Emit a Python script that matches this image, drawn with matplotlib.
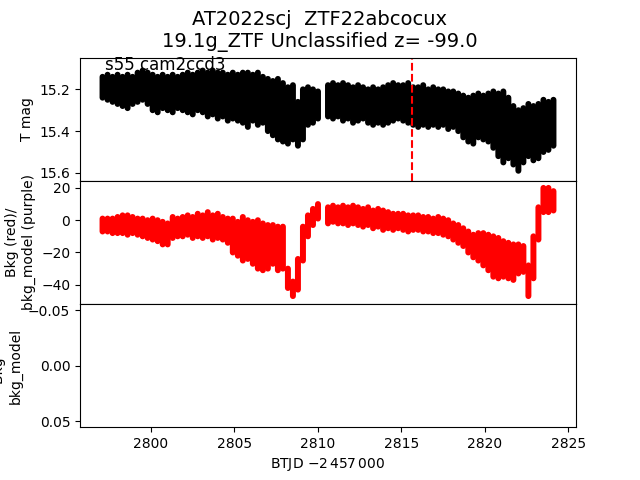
import numpy as np
import matplotlib.pyplot as plt

# values, one column roughly every 0.3 d
btjd = [2797.1, 2797.4, 2797.7, 2798.0, 2798.3, 2798.6, 2798.9, 2799.2, 2799.5, 2799.8,
        2800.1, 2800.4, 2800.7, 2801.0, 2801.3, 2801.6, 2801.9, 2802.2, 2802.5, 2802.8,
        2803.1, 2803.4, 2803.7, 2804.0, 2804.3, 2804.6, 2804.9, 2805.2, 2805.5, 2805.8,
        2806.1, 2806.4, 2806.7, 2807.0, 2807.3, 2807.6, 2807.9, 2808.2, 2808.5, 2808.8,
        2809.1, 2809.4, 2809.7, 2810.0,
        2810.6, 2810.9, 2811.2, 2811.5, 2811.8, 2812.1, 2812.4, 2812.7, 2813.0, 2813.3,
        2813.6, 2813.9, 2814.2, 2814.5, 2814.8, 2815.1, 2815.4, 2815.7, 2816.0, 2816.3,
        2816.6, 2816.9, 2817.2, 2817.5, 2817.8, 2818.1, 2818.4, 2818.7, 2819.0, 2819.3,
        2819.6, 2819.9, 2820.2, 2820.5, 2820.8, 2821.1, 2821.4, 2821.7, 2822.0, 2822.3,
        2822.6, 2822.9, 2823.2, 2823.5, 2823.8, 2824.1]

# T mag band: bright edge / faint edge
mag_bright = [15.14, 15.13, 15.14, 15.13, 15.14, 15.13, 15.14, 15.12, 15.11, 15.12,
              15.13, 15.14, 15.13, 15.14, 15.13, 15.14, 15.13, 15.12, 15.13, 15.12,
              15.11, 15.12, 15.11, 15.12, 15.12, 15.13, 15.12, 15.13, 15.12, 15.12,
              15.13, 15.12, 15.14, 15.15, 15.16, 15.15, 15.17, 15.19, 15.18, 15.26,
              15.20, 15.19, 15.20, 15.21,
              15.18, 15.17, 15.18, 15.17, 15.18, 15.19, 15.18, 15.19, 15.20, 15.19,
              15.20, 15.19, 15.18, 15.17, 15.18, 15.18, 15.17, 15.19, 15.19, 15.18,
              15.20, 15.19, 15.20, 15.20, 15.21, 15.21, 15.22, 15.23, 15.24, 15.23,
              15.22, 15.23, 15.22, 15.21, 15.22, 15.21, 15.24, 15.28, 15.30, 15.29,
              15.27, 15.28, 15.27, 15.25, 15.26, 15.25]
mag_faint = [15.24, 15.25, 15.26, 15.27, 15.28, 15.29, 15.27, 15.26, 15.25, 15.27,
             15.30, 15.31, 15.29, 15.30, 15.31, 15.29, 15.30, 15.31, 15.32, 15.30,
             15.31, 15.33, 15.32, 15.34, 15.33, 15.35, 15.34, 15.35, 15.36, 15.38,
             15.35, 15.37, 15.36, 15.40, 15.42, 15.44, 15.45, 15.46, 15.44, 15.47,
             15.44, 15.37, 15.36, 15.34,
             15.33, 15.34, 15.33, 15.35, 15.34, 15.36, 15.35, 15.34, 15.36, 15.37,
             15.36, 15.37, 15.36, 15.35, 15.34, 15.35, 15.36, 15.37, 15.38, 15.37,
             15.38, 15.37, 15.38, 15.37, 15.39, 15.38, 15.40, 15.43, 15.45, 15.46,
             15.43, 15.44, 15.45, 15.48, 15.52, 15.55, 15.53, 15.56, 15.59, 15.55,
             15.52, 15.54, 15.53, 15.50, 15.49, 15.47]

# background flux band: low edge / high edge
bkg_low = [-7, -7, -8, -8, -8, -9, -8, -9, -10, -11,
           -12, -13, -15, -15, -11, -10, -10, -9, -11, -10,
           -11, -10, -12, -11, -12, -14, -20, -22, -25, -24,
           -27, -30, -31, -30, -27, -31, -30, -42, -47, -43,
           -25, -10, -3, 1,
           -2, -1, -2, -2, -3, -2, -3, -4, -3, -5,
           -4, -6, -5, -6, -5, -6, -7, -6, -6, -7,
           -7, -8, -8, -9, -10, -12, -14, -16, -20, -23,
           -25, -28, -31, -35, -36, -35, -36, -37, -33, -32,
           -47, -36, -12, 5, 5, 6]
bkg_high = [1, 1, 1, 2, 3, 3, 2, 1, 1, 0,
            1, 0, -1, -2, 2, 1, 2, 3, 2, 4,
            3, 5, 3, 4, 2, 1, 1, -1, 2, 0,
            -1, 0, -2, -3, -3, -4, -4, -30, -38, -24,
            -4, 3, 7, 10,
            8, 9, 8, 9, 8, 9, 8, 7, 8, 6,
            7, 6, 5, 4, 4, 4, 3, 3, 3, 2,
            2, 1, 2, 1, 0, -2, -3, -5, -7, -9,
            -8, -8, -9, -10, -11, -13, -14, -15, -15, -16,
            -28, -10, 8, 20, 20, 18]

t_peak = 2815.62
title = "AT2022scj  ZTF22abcocux\n19.1g_ZTF Unclassified z= -99.0"
sector = "s55 cam2ccd3"

fig, axs = plt.subplots(3, 1, sharex=True, figsize=(6.4, 4.8), dpi=100)
fig.subplots_adjust(hspace=0)
fig.suptitle(title, fontsize=14)

ax = axs[0]
ax.vlines(btjd, mag_bright, mag_faint, color='k', lw=4.3, capstyle='round', snap=False)
ax.axvline(t_peak, color='r', ls='--', lw=1.5)
ax.set_ylim(15.638, 15.048)
ax.set_yticks([15.2, 15.4, 15.6])
ax.set_ylabel('T mag')
ax.text(0.05, 0.9, sector, transform=ax.transAxes, fontsize=12)

ax = axs[1]
ax.vlines(btjd, bkg_low, bkg_high, color='r', lw=4.3, capstyle='round', snap=False)
ax.set_ylim(-51.9, 24.4)
ax.set_yticks([20, 0, -20, -40])
ax.set_ylabel('Bkg (red)/\nbkg_model (purple)')

ax = axs[2]
ax.set_ylim(0.0555, -0.0555)
ax.set_yticks([-0.05, 0.0, 0.05])
ax.set_ylabel('Bkg -\nbkg_model')
ax.set_xlabel(r'BTJD $-2\,457\,000$', labelpad=4)

fig.savefig('out.png')
